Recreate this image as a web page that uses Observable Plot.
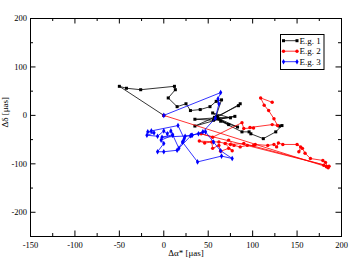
<!DOCTYPE html>
<html><head><meta charset="utf-8">
<script src="https://cdn.jsdelivr.net/npm/d3@7"></script>
<script src="https://cdn.jsdelivr.net/npm/@observablehq/plot@0.6"></script>
<style>body{margin:0;background:#fff} #c{width:358px;height:263px} svg text{font-family:"Liberation Serif",serif}</style>
</head><body><div id="c"></div><script>
const seriesNames = ["E.g. 1", "E.g. 2", "E.g. 3"];
const seriesColors = ["#000000", "#ff0000", "#0000ff"];
const seriesSymbols = ["square", "circle", "diamond"];

const x1 = [0,-50,-42,-26,12,13,5,15,25,30,41,52,59,65,58,86,84,60,55,75,57,35,62,80,56,35,60,73,60,83,64,88,96,98,112,126,133,130];
const y1 = [0,60,56,53,60,53,36,18,24,10,12,18,29,32,-6,24,20,-2,5,-5,-4,-22,-8,-2,-10,-8,-5,-19,-5,-24,-12,-34,-34,-38,-48,-34,-21,-22];

const x2 = [0,183,180,185,182,179,165,159,156,152,154,150,134,129,127,124,117,103,101,94,86,79,73,69,77,73,64,62,55,54,46,40,62,75,90,186,42,55,88,90,101,97,122,128,124,118,113,109,122];
const y2 = [0,-106,-103,-108,-97,-93,-89,-78,-68,-75,-65,-60,-60,-57,-65,-60,-62,-60,-62,-62,-65,-62,-51,-58,-73,-68,-74,-62,-68,-55,-57,-53,-55,-60,-58,-105,-38,-45,-15,-27,-26,-25,-19,-21,-7,10,21,36,27];

const x3 = [0,64,61,62,58,44,32,24,23,16,-14,-18,-11,-19,-7,0,4,8,10,-3,0,-7,0,15,22,21,38,65,77,64,56,47,39,31,17,10,-2,30];
const y3 = [0,47,34,24,-6,-34,-41,-43,-48,-21,-32,-34,-36,-41,-43,-32,-38,-32,-41,-51,-58,-75,-75,-72,-53,-55,-96,-84,-89,-73,-55,-34,-38,-41,-68,-40,-45,-42];

const xMajor = [-150,-100,-50,0,50,100,150,200];
const xMinor = [-125,-75,-25,25,75,125,175];
const yMajor = [-200,-100,0,100,200];
const yMinor = [-150,-50,50,150];

const allX = [x1, x2, x3], allY = [y1, y2, y3];
const rows = [];
allX.forEach((xs, s) => xs.forEach((x, i) => rows.push({s: seriesNames[s], x, y: allY[s][i], i})));

const W = 358, H = 263, mL = 30, mR = 17, mT = 18, mB = 27;
const pw = W - mL - mR, ph = H - mT - mB;
const major = 5.5, minor = 3;

const marks = [
  Plot.frame({stroke: "black", strokeWidth: 1}),
  Plot.ruleX(xMajor, {x: d => d, insetTop: ph - major, stroke: "black"}),
  Plot.ruleX(xMajor, {x: d => d, insetBottom: ph - major, stroke: "black"}),
  Plot.ruleX(xMinor, {x: d => d, insetTop: ph - minor, stroke: "black"}),
  Plot.ruleX(xMinor, {x: d => d, insetBottom: ph - minor, stroke: "black"}),
  Plot.ruleY(yMajor, {y: d => d, insetRight: pw - major, stroke: "black"}),
  Plot.ruleY(yMajor, {y: d => d, insetLeft: pw - major, stroke: "black"}),
  Plot.ruleY(yMinor, {y: d => d, insetRight: pw - minor, stroke: "black"}),
  Plot.ruleY(yMinor, {y: d => d, insetLeft: pw - minor, stroke: "black"}),
  Plot.axisX({ticks: xMajor, tickSize: 0, tickPadding: 5, tickFormat: d => String(d), label: null}),
  Plot.axisY({ticks: yMajor, tickSize: 0, tickPadding: 3.5, tickFormat: d => String(d), label: null}),
  Plot.text(["Δα* [μas]"], {frameAnchor: "bottom", dy: 17, lineAnchor: "middle", fontSize: 9, ariaLabel: "xlabel"}),
  Plot.text(["Δδ [μas]"], {frameAnchor: "left", dx: -25, rotate: -90, lineAnchor: "middle", fontSize: 9}),
];
seriesNames.forEach((name, s) => {
  const d = rows.filter(r => r.s === name);
  marks.push(Plot.line(d, {x: "x", y: "y", stroke: seriesColors[s], strokeWidth: 0.8}));
  marks.push(Plot.dot(d, {x: "x", y: "y", fill: seriesColors[s], stroke: null, symbol: seriesSymbols[s], r: 1.7}));
});

const chart = Plot.plot({
  width: W, height: H,
  marginLeft: mL, marginRight: mR, marginTop: mT, marginBottom: mB,
  x: {domain: [-150, 200]},
  y: {domain: [-250, 200]},
  style: {fontFamily: "Liberation Serif", fontSize: "8.5px", background: "white", color: "black"},
  marks
});
document.getElementById("c").appendChild(chart);

const svg = d3.select(chart);
svg.select('g[aria-label="xlabel"] text')
  .html('Δα<tspan dy="2" font-size="6.5">*</tspan><tspan dy="-2"> [μas]</tspan>');

// legend
const lg = svg.append("g").attr("font-size", 9).attr("text-anchor", "start");
lg.append("rect").attr("x", 280.5).attr("y", 34.5).attr("width", 43.5).attr("height", 35)
  .attr("fill", "white").attr("stroke", "black").attr("stroke-width", 1);
seriesNames.forEach((name, s) => {
  const cy = 40.7 + s * 10.5;
  lg.append("line").attr("x1", 283.5).attr("x2", 297).attr("y1", cy).attr("y2", cy)
    .attr("stroke", seriesColors[s]).attr("stroke-width", 0.8);
  const sym = d3.symbol(s === 0 ? d3.symbolSquare : s === 1 ? d3.symbolCircle : d3.symbolDiamond, 9);
  [283.5, 297].forEach(px => lg.append("path").attr("d", sym()).attr("transform", `translate(${px},${cy})`).attr("fill", seriesColors[s]));
  lg.append("text").attr("x", 299.5).attr("y", cy).attr("dy", "0.33em").attr("fill", "black").attr("text-anchor", "start").text(name);
});
</script></body></html>
